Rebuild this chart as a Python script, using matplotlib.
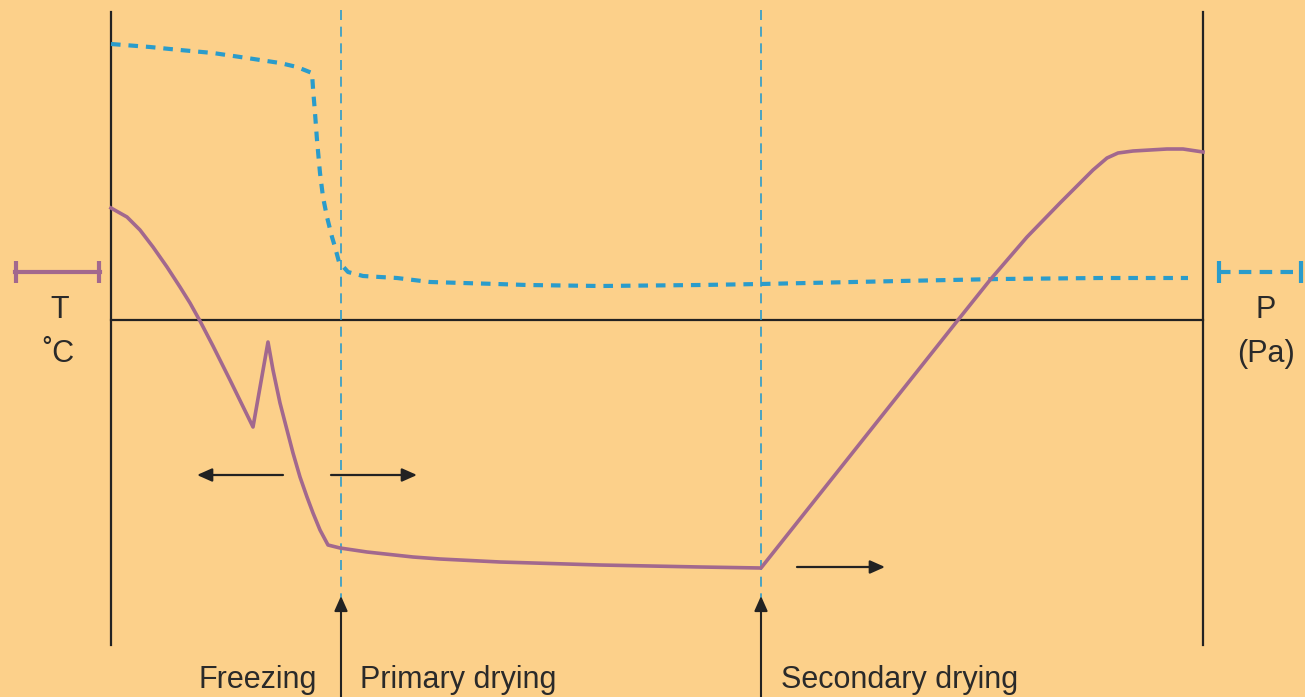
import matplotlib.pyplot as plt

# couleurs
fond = "#FCD08A"
violet = "#A2688E"
bleu = "#2A9CCB"

# courbe de temperature (coordonnees du schema, y vers le bas)
temp_x = [111, 127, 140, 153, 167, 180, 190, 200, 213, 230, 253, 268,
          273, 280, 287, 293, 300, 307, 313, 320, 328, 340, 367, 413, 440,
          500, 600, 700, 761, 958, 990, 1027, 1060, 1080, 1093, 1107, 1118,
          1133, 1167, 1183, 1203]
temp_y = [208, 217, 230, 247, 267, 287, 303, 321, 346, 380, 427, 342,
          370, 403, 430, 453, 477, 497, 513, 530, 545, 548, 552, 557, 559,
          562, 565, 567, 568, 320, 280, 237, 203, 183, 170, 158, 153,
          151, 149, 149, 152]

# courbe de pression
pres_x = [111, 150, 180, 213, 247, 280, 297, 312, 313, 315, 317, 320, 323,
          327, 332, 335, 339, 348, 363, 397, 430, 463, 497, 527, 600, 700,
          761, 900, 1000, 1100, 1188]
pres_y = [44, 47, 50, 53, 58, 63, 67, 73, 88, 113, 140, 173, 197,
          217, 237, 247, 262, 272, 276, 278, 282, 283, 284, 285, 286, 285,
          284, 281, 279, 278, 278]

# limites des phases
phases_x = [341, 761]
phases_labels = ["Freezing", "Primary drying", "Secondary drying"]

fig = plt.figure(figsize=(13.05, 6.97), dpi=100)
fig.patch.set_facecolor(fond)
ax = fig.add_axes([0, 0, 1, 1])
ax.set_facecolor(fond)
ax.set_xlim(0, 1305)
ax.set_ylim(697, 0)
ax.axis("off")

# cadre
ax.plot([111, 111], [12, 645], color="#222222", lw=1.6)
ax.plot([1203, 1203], [12, 645], color="#222222", lw=1.6)
ax.plot([111, 1203], [320, 320], color="#222222", lw=1.6)

# lignes de phase
for x in phases_x:
    ax.plot([x, x], [10, 598], color=bleu, lw=1.2, dashes=(6, 4))
    ax.annotate("", xy=(x, 596), xytext=(x, 697),
                arrowprops=dict(arrowstyle="-|>,head_length=0.9,head_width=0.4",
                                color="#222222", lw=1.5, shrinkA=0, shrinkB=0))

# courbes
ax.plot(pres_x, pres_y, color=bleu, lw=3, dashes=(2.3, 1.9))
ax.plot(temp_x, temp_y, color=violet, lw=2.6, solid_joinstyle="round")

# fleches horizontales
fleches = [((283, 475), (197, 475)), ((331, 475), (417, 475)), ((797, 567), (885, 567))]
for debut, fin in fleches:
    ax.annotate("", xy=fin, xytext=debut,
                arrowprops=dict(arrowstyle="-|>,head_length=0.9,head_width=0.4",
                                color="#222222", lw=1.6, shrinkA=0, shrinkB=0))

# textes des phases
police = dict(family="Liberation Sans", fontsize=22, color="#2a2a2a")
ax.text(258, 688, phases_labels[0], ha="center", va="baseline", **police)
ax.text(360, 688, phases_labels[1], ha="left", va="baseline", **police)
ax.text(781, 688, phases_labels[2], ha="left", va="baseline", **police)

# legendes laterales
ax.plot([15, 100], [272, 272], color=violet, lw=3)
ax.plot([16, 99], [272, 272], ls="none", marker="|", ms=16, mew=3, color=violet)
ax.text(60, 318, "T", ha="center", va="baseline", **police)
ax.text(58, 362, "˚C", ha="center", va="baseline", **police)

ax.plot([1218, 1302], [272, 272], color=bleu, lw=3, dashes=(3, 2))
ax.plot([1219, 1301], [272, 272], ls="none", marker="|", ms=16, mew=3, color=bleu)
ax.text(1266, 318, "P", ha="center", va="baseline", **police)
ax.text(1266, 362, "(Pa)", ha="center", va="baseline", **police)

fig.savefig("out.png", dpi=100, facecolor=fond)
